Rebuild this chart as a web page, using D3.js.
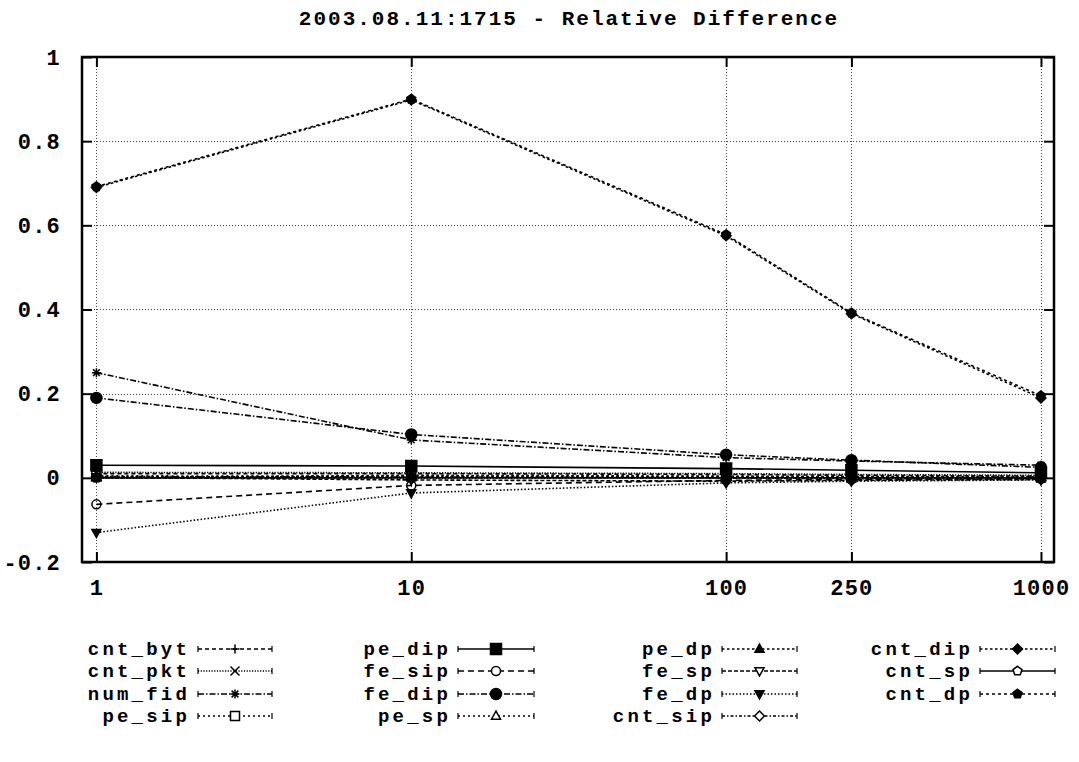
<!DOCTYPE html>
<html lang="en">
<head>
<meta charset="utf-8">
<title>Relative Difference</title>
<script src="https://cdn.jsdelivr.net/npm/d3@7/dist/d3.min.js"></script>
<style>
body { margin: 0; background: #fff; }
text { font-family: "Liberation Mono", "DejaVu Sans Mono", monospace; font-weight: bold; fill: #000; }
.tick-label { font-size: 22px; letter-spacing: 1.2px; }
.legend_labels { font-size: 19px; letter-spacing: 3.2px; }
.title { font-size: 21px; letter-spacing: 2px; }
</style>
</head>
<body>
<script>
// x positions (sample sizes) and tick labels
var xValues = [1, 10, 100, 250, 1000];
var xTicks = [1, 10, 100, 250, 1000];
var yTicks = [-0.2, 0, 0.2, 0.4, 0.6, 0.8, 1];

var seriesNames = ["cnt_byt", "cnt_pkt", "num_fid", "pe_sip", "pe_dip", "fe_sip", "fe_dip", "pe_sp",
                   "pe_dp", "fe_sp", "fe_dp", "cnt_sip", "cnt_dip", "cnt_sp", "cnt_dp"];

// values (one row per series, one per x value)
var cnt_byt = [0.010, 0.010, 0.008, 0.006, 0.004];
var cnt_pkt = [0.013, 0.012, 0.010, 0.008, 0.006];
var num_fid = [0.250, 0.090, 0.048, 0.040, 0.030];
var pe_sip  = [0.005, 0.003, 0.002, 0.001, 0.001];
var pe_dip  = [0.030, 0.028, 0.022, 0.018, 0.012];
var fe_sip  = [-0.063, -0.018, -0.006, -0.004, -0.002];
var fe_dip  = [0.190, 0.103, 0.055, 0.042, 0.025];
var pe_sp   = [0.002, 0.004, 0.003, 0.002, 0.001];
var pe_dp   = [0.000, 0.006, 0.004, 0.003, 0.002];
var fe_sp   = [0.001, -0.005, -0.008, -0.006, -0.004];
var fe_dp   = [-0.130, -0.036, -0.012, -0.008, -0.005];
var cnt_sip = [0.003, 0.002, 0.000, -0.002, -0.001];
var cnt_dip = [0.690, 0.898, 0.575, 0.390, 0.190];
var cnt_sp  = [0.000, 0.000, 0.000, 0.000, 0.000];
var cnt_dp  = [0.692, 0.900, 0.578, 0.392, 0.195];

var seriesValues = [cnt_byt, cnt_pkt, num_fid, pe_sip, pe_dip, fe_sip, fe_dip, pe_sp,
                    pe_dp, fe_sp, fe_dp, cnt_sip, cnt_dip, cnt_sp, cnt_dp];

// gnuplot-like line dash patterns and point types
var dashes = ["4,3", "1.2,1.5", "6,2,1.5,2", "2,3", null, "6,4", "6,2,1.5,2", "2,3",
              "2.5,2.5", "4,2", "1.5,2", "3,2,1.5,2", "2.5,2.5", null, "3,3"];
var markers = ["plus", "cross", "star", "boxOpen", "box", "circleOpen", "circle", "triOpen",
               "tri", "dtriOpen", "dtri", "diamondOpen", "diamond", "pentOpen", "pent"];

var W = 1079, H = 762;
var mLeft = 82, mRight = 1054, mTop = 57, mBottom = 562;

var svg = d3.select("body").append("svg")
  .attr("width", W).attr("height", H);

var x = d3.scaleLog().domain([0.9, 1100]).range([mLeft, mRight]);
var y = d3.scaleLinear().domain([-0.2, 1]).range([mBottom, mTop]);

// title
svg.append("text").attr("class", "title")
  .attr("x", (mLeft + mRight) / 2 + 1).attr("y", 25)
  .attr("text-anchor", "middle")
  .text("2003.08.11:1715 - Relative Difference");

// grid
var grid = svg.append("g").attr("stroke", "#444").attr("stroke-width", 1).attr("stroke-dasharray", "1,2");
grid.selectAll(".gx").data(xTicks).enter().append("line")
  .attr("x1", d => Math.round(x(d)) + 0.5).attr("x2", d => Math.round(x(d)) + 0.5)
  .attr("y1", mTop).attr("y2", mBottom);
grid.selectAll(".gy").data(yTicks.slice(1, -1)).enter().append("line")
  .attr("y1", d => Math.round(y(d)) + 0.5).attr("y2", d => Math.round(y(d)) + 0.5)
  .attr("x1", mLeft).attr("x2", mRight);

// axes (ticks inward, gnuplot style)
var xAxisB = d3.axisBottom(x).tickValues(xTicks).tickSize(-10).tickFormat(d3.format("d")).tickPadding(17);
var xAxisT = d3.axisTop(x).tickValues(xTicks).tickSize(-10).tickFormat("");
var yAxisL = d3.axisLeft(y).tickValues(yTicks).tickSize(-10).tickPadding(21)
  .tickFormat(d => d === 0 ? "0" : (d === 1 ? "1" : d3.format(".1f")(d).replace("\u2212", "-")));
var yAxisR = d3.axisRight(y).tickValues(yTicks).tickSize(-10).tickFormat("");

function styleAxis(g) {
  g.select(".domain").remove();
  g.selectAll(".tick line").attr("stroke", "#000").attr("stroke-width", 2);
  g.selectAll(".tick text").attr("class", "tick-label").attr("font-size", null).attr("font-family", null);
}
svg.append("g").attr("transform", "translate(0," + mBottom + ")").call(xAxisB).call(styleAxis);
svg.append("g").attr("transform", "translate(0," + mTop + ")").call(xAxisT).call(styleAxis);
svg.append("g").attr("transform", "translate(" + mLeft + ",0)").call(yAxisL).call(styleAxis);
svg.append("g").attr("transform", "translate(" + mRight + ",0)").call(yAxisR).call(styleAxis);

// marker paths, centred on 0,0
function markerPath(type, r) {
  var p = d3.path();
  function poly(pts) { pts.forEach((q, i) => i ? p.lineTo(q[0], q[1]) : p.moveTo(q[0], q[1])); p.closePath(); }
  switch (type) {
    case "plus": p.moveTo(-r, 0); p.lineTo(r, 0); p.moveTo(0, -r); p.lineTo(0, r); break;
    case "cross": p.moveTo(-r, -r); p.lineTo(r, r); p.moveTo(-r, r); p.lineTo(r, -r); break;
    case "star": p.moveTo(-r, 0); p.lineTo(r, 0); p.moveTo(0, -r); p.lineTo(0, r);
                 p.moveTo(-r * 0.75, -r * 0.75); p.lineTo(r * 0.75, r * 0.75);
                 p.moveTo(-r * 0.75, r * 0.75); p.lineTo(r * 0.75, -r * 0.75); break;
    case "box": case "boxOpen": poly([[-r, -r], [r, -r], [r, r], [-r, r]]); break;
    case "circle": case "circleOpen": p.moveTo(r, 0); p.arc(0, 0, r, 0, 2 * Math.PI); break;
    case "tri": case "triOpen": poly([[0, -r * 1.1], [r, r * 0.7], [-r, r * 0.7]]); break;
    case "dtri": case "dtriOpen": poly([[0, r * 1.1], [r, -r * 0.7], [-r, -r * 0.7]]); break;
    case "diamond": case "diamondOpen": poly([[0, -r * 1.1], [r * 1.1, 0], [0, r * 1.1], [-r * 1.1, 0]]); break;
    case "pent": case "pentOpen":
      poly(d3.range(5).map(i => { var a = -Math.PI / 2 + i * 2 * Math.PI / 5; return [r * 1.05 * Math.cos(a), r * 1.05 * Math.sin(a)]; }));
      break;
  }
  return p.toString();
}
function isFilled(t) { return ["box", "circle", "tri", "dtri", "diamond", "pent"].indexOf(t) >= 0; }
function markerSize(t) { return ["box", "circle"].indexOf(t) >= 0 ? 5.5 : 4.5; }

function drawMarker(g, type, cx, cy, r, bg) {
  g.append("path")
    .attr("d", markerPath(type, r))
    .attr("transform", "translate(" + cx + "," + cy + ")")
    .attr("fill", isFilled(type) ? "#000" : (bg && type.indexOf("Open") > 0 ? "#fff" : "none"))
    .attr("stroke", "#000")
    .attr("stroke-width", 1.5);
}

// series
var line = d3.line().x((d, i) => x(xValues[i])).y(d => y(d));
var plot = svg.append("g");
seriesValues.forEach(function(vals, s) {
  plot.append("path")
    .datum(vals)
    .attr("d", line)
    .attr("fill", "none")
    .attr("stroke", "#000")
    .attr("stroke-width", 1.6)
    .attr("stroke-dasharray", dashes[s]);
});
seriesValues.forEach(function(vals, s) {
  vals.forEach(function(v, i) {
    drawMarker(plot, markers[s], x(xValues[i]), y(v), markerSize(markers[s]), false);
  });
});

// border
svg.append("rect")
  .attr("x", mLeft).attr("y", mTop)
  .attr("width", mRight - mLeft).attr("height", mBottom - mTop)
  .attr("fill", "none").attr("stroke", "#000").attr("stroke-width", 2.5);

// legend: 4 columns x 4 rows, column-major
var legCols = [{lab: 190, s0: 198, s1: 272}, {lab: 451, s0: 458, s1: 534},
               {lab: 715, s0: 722, s1: 797}, {lab: 973, s0: 980, s1: 1055}];
var legRows = [649, 671, 694, 716];
var legend = svg.append("g");
seriesNames.forEach(function(name, s) {
  var c = legCols[Math.floor(s / 4)], ry = legRows[s % 4];
  legend.append("text").attr("class", "legend_labels")
    .attr("x", c.lab).attr("y", ry + 6)
    .attr("text-anchor", "end")
    .text(name);
  legend.append("line")
    .attr("x1", c.s0).attr("x2", c.s1).attr("y1", ry).attr("y2", ry)
    .attr("stroke", "#000").attr("stroke-width", 1.3)
    .attr("stroke-dasharray", dashes[s]);
  [c.s0, c.s1].forEach(function(ex) {
    legend.append("line")
      .attr("x1", ex).attr("x2", ex).attr("y1", ry - 3).attr("y2", ry + 3)
      .attr("stroke", "#000").attr("stroke-width", 1.2);
  });
  drawMarker(legend, markers[s], (c.s0 + c.s1) / 2, ry, markerSize(markers[s]), true);
});
</script>
</body>
</html>
